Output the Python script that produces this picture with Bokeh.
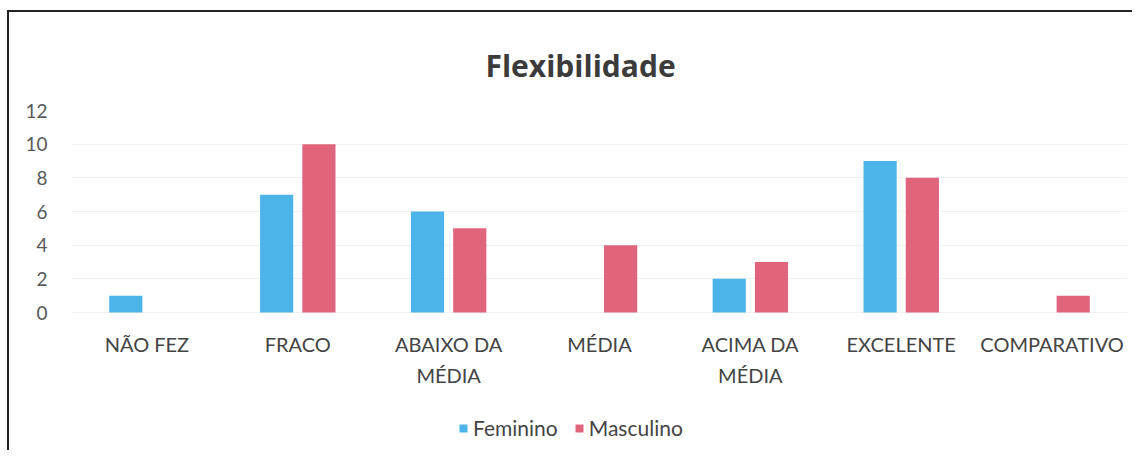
from bokeh.plotting import figure
from bokeh.models import ColumnDataSource, FactorRange, Range1d, FixedTicker, Legend, LegendItem
from bokeh.transform import dodge
from bokeh.core.properties import value
from bokeh.embed import file_html
from bokeh.resources import INLINE

categories = ["NÃO FEZ", "FRACO", "ABAIXO DA\nMÉDIA", "MÉDIA", "ACIMA DA\nMÉDIA", "EXCELENTE", "COMPARATIVO"]
feminino = [1, 7, 6, 0, 2, 9, 0]
masculino = [0, 10, 5, 4, 3, 8, 1]
series_names = ["Feminino", "Masculino"]
y_ticks = [0, 2, 4, 6, 8, 10, 12]

source = ColumnDataSource(dict(cat=categories, fem=feminino, mas=masculino,
                               base=[0] * len(categories)))

FONT = "Lato"
p = figure(x_range=FactorRange(*categories), y_range=Range1d(-7.96, 12),
           output_backend="svg", toolbar_location=None,
           frame_width=1056, frame_height=336,
           min_border_left=62, min_border_right=5, min_border_top=98, min_border_bottom=4)
p.x_range.range_padding = 0
p.title.text = "Flexibilidade"
p.title.align = "left"
p.title.offset = 414
p.title.text_font = "Open Sans"
p.title.text_font_style = "bold"
p.title.text_font_size = "30px"
p.title.text_color = "#3b3b3b"
p.title.standoff = 50

r1 = p.vbar(x=dodge("cat", -0.14, range=p.x_range), top="fem", width=0.22, source=source,
            fill_color="#4db4ea", line_color=None)
r2 = p.vbar(x=dodge("cat", 0.14, range=p.x_range), top="mas", width=0.22, source=source,
            fill_color="#e0647c", line_color=None)

# category labels under the baseline
p.text(x="cat", y="base", text="cat", source=source, text_align="center", text_baseline="top",
       y_offset=19, text_font=value(FONT), text_font_size="20px", text_color="#444444",
       text_line_height=1.32)

p.outline_line_color = None
p.background_fill_color = "white"
p.border_fill_color = "white"

p.xaxis.visible = False
p.yaxis.ticker = FixedTicker(ticks=y_ticks)
p.yaxis.axis_line_color = None
p.yaxis.major_tick_line_color = None
p.yaxis.minor_tick_line_color = None
p.yaxis.major_label_standoff = 18
p.yaxis.major_label_text_font = FONT
p.yaxis.major_label_text_font_size = "19px"
p.yaxis.major_label_text_color = "#595959"

p.xgrid.grid_line_color = None
p.ygrid.grid_line_color = "#f1f1f1"

legend = Legend(items=[LegendItem(label=series_names[0], renderers=[r1]),
                       LegendItem(label=series_names[1], renderers=[r2])],
                orientation="horizontal", location=(387, 6),
                label_text_font=FONT, label_text_font_size="21px", label_text_color="#444444",
                glyph_width=10, glyph_height=10, spacing=16, label_standoff=5,
                border_line_color=None, background_fill_alpha=0, margin=0, padding=0)
p.add_layout(legend, "center")

p.styles = {"border-left": "2px solid #222", "border-top": "2px solid #222",
            "margin-left": "7px", "margin-top": "10px"}

open("out.html", "w").write(file_html(p, INLINE))
